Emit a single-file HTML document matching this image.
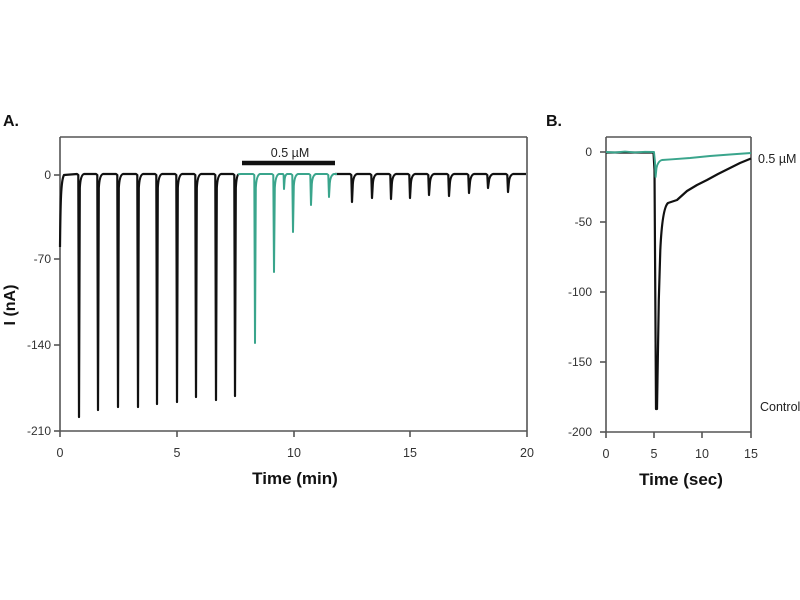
<!DOCTYPE html>
<html>
<head>
<meta charset="utf-8">
<style>
  html,body{margin:0;padding:0;background:#fff;}
  svg{display:block;}
  text{font-family:"Liberation Sans",Arial,sans-serif;}
</style>
</head>
<body>
<svg width="800" height="600" viewBox="0 0 800 600" xmlns="http://www.w3.org/2000/svg">
  <rect width="800" height="600" fill="#fff"/>

  <!-- Panel labels -->
  <text x="3" y="126" font-size="16" font-weight="bold" fill="#111">A.</text>
  <text x="546" y="126" font-size="16" font-weight="bold" fill="#111">B.</text>

  <!-- ================= Panel A ================= -->
  <g stroke="#555" stroke-width="1.6" fill="none">
    <line x1="60" y1="137" x2="527" y2="137"/>
    <line x1="527" y1="137" x2="527" y2="431"/>
    <line x1="60" y1="137" x2="60" y2="431"/>
    <line x1="60" y1="431" x2="527" y2="431"/>
    <!-- y ticks -->
    <line x1="54" y1="175" x2="60" y2="175"/>
    <line x1="54" y1="259" x2="60" y2="259"/>
    <line x1="54" y1="345" x2="60" y2="345"/>
    <line x1="54" y1="431" x2="60" y2="431"/>
    <!-- x ticks -->
    <line x1="60" y1="431" x2="60" y2="437"/>
    <line x1="177" y1="431" x2="177" y2="437"/>
    <line x1="294" y1="431" x2="294" y2="437"/>
    <line x1="410" y1="431" x2="410" y2="437"/>
    <line x1="527" y1="431" x2="527" y2="437"/>
  </g>
  <g font-size="12" fill="#333" text-anchor="end">
    <text x="51" y="179">0</text>
    <text x="51" y="263">-70</text>
    <text x="51" y="349">-140</text>
    <text x="51" y="435">-210</text>
  </g>
  <g font-size="12.5" fill="#333" text-anchor="middle">
    <text x="60" y="457">0</text>
    <text x="177" y="457">5</text>
    <text x="294" y="457">10</text>
    <text x="410" y="457">15</text>
    <text x="527" y="457">20</text>
  </g>
  <text x="295" y="484" font-size="17" font-weight="bold" fill="#111" text-anchor="middle">Time (min)</text>
  <text transform="translate(15,305) rotate(-90)" font-size="16" font-weight="bold" fill="#111" text-anchor="middle">I (nA)</text>

  <!-- concentration bar -->
  <line x1="242" y1="163" x2="335" y2="163" stroke="#111" stroke-width="4.5"/>
  <text x="290" y="157" font-size="12.5" fill="#222" text-anchor="middle">0.5 µM</text>

  <!-- black traces (control) -->
  <path fill="none" stroke="#111" stroke-width="2.2" stroke-linejoin="round"
    d="M60,247 C60.5,200 61,180 64,175 L77,174
       L78.3,175 L79,417 L79.8,188 Q80.5,175 84,174 L96,174
       L97.3,175 L98,410 L98.8,188 Q99.5,175 103,174 L116,174
       L117.3,175 L118,407 L118.8,188 Q119.5,175 123,174 L136,174
       L137.3,175 L138,407 L138.8,188 Q139.5,175 143,174 L155,174
       L156.3,175 L157,404 L157.8,188 Q158.5,175 162,174 L175,174
       L176.3,175 L177,402 L177.8,188 Q178.5,175 182,174 L194,174
       L195.3,175 L196,397 L196.8,188 Q197.5,175 201,174 L214,174
       L215.3,175 L216,400 L216.8,188 Q217.5,175 221,174 L233,174
       L234.3,175 L235,396 L235.8,188 Q236.5,175 238.5,174.5"/>
  <path fill="none" stroke="#111" stroke-width="2.2" stroke-linejoin="round"
    d="M335,174 L350,174
       L351.3,175 L352,202 L352.8,184 Q353.5,175 357,174 L370,174
       L371.3,175 L372,198 L372.8,184 Q373.5,175 377,174 L389,174
       L390.3,175 L391,199 L391.8,184 Q392.5,175 396,174 L408,174
       L409.3,175 L410,198 L410.8,184 Q411.5,175 415,174 L427,174
       L428.3,175 L429,195 L429.8,184 Q430.5,175 434,174 L447,174
       L448.3,175 L449,196 L449.8,184 Q450.5,175 454,174 L467,174
       L468.3,175 L469,193 L469.8,184 Q470.5,175 474,174 L486,174
       L487.3,175 L488,188 L488.8,182 Q489.5,175 493,174 L506,174
       L507.3,175 L508,192 L508.8,183 Q509.5,175 513,174 L526,174"/>
  <!-- green traces (0.5 uM) -->
  <path fill="none" stroke="#3aa58c" stroke-width="2" stroke-linejoin="round"
    d="M238,174.5 Q239,174 241,174 L253,174
       L254.3,175 L255,343 L255.8,188 Q256.5,175 260,174 L272,174
       L273.3,175 L274,272 L274.8,188 Q275.5,175 279,174 L283,174
       L283.6,175 L284,189 L284.6,180 Q285,175 287,174 L291,174
       L292.3,175 L293,232 L293.8,186 Q294.5,175 298,174 L309,174
       L310.3,175 L311,205 L311.8,184 Q312.5,175 316,174 L327,174
       L328.3,175 L329,197 L329.8,183 Q330.5,175 334,174 L337,174"/>

  <!-- ================= Panel B ================= -->
  <g stroke="#555" stroke-width="1.6" fill="none">
    <line x1="606" y1="137" x2="751" y2="137"/>
    <line x1="751" y1="137" x2="751" y2="432"/>
    <line x1="606" y1="137" x2="606" y2="432"/>
    <line x1="606" y1="432" x2="751" y2="432"/>
    <line x1="600" y1="152" x2="606" y2="152"/>
    <line x1="600" y1="222" x2="606" y2="222"/>
    <line x1="600" y1="292" x2="606" y2="292"/>
    <line x1="600" y1="362" x2="606" y2="362"/>
    <line x1="600" y1="432" x2="606" y2="432"/>
    <line x1="606" y1="432" x2="606" y2="438"/>
    <line x1="654" y1="432" x2="654" y2="438"/>
    <line x1="702" y1="432" x2="702" y2="438"/>
    <line x1="751" y1="432" x2="751" y2="438"/>
  </g>
  <g font-size="12" fill="#333" text-anchor="end">
    <text x="592" y="156">0</text>
    <text x="592" y="226">-50</text>
    <text x="592" y="296">-100</text>
    <text x="592" y="366">-150</text>
    <text x="592" y="436">-200</text>
  </g>
  <g font-size="12.5" fill="#333" text-anchor="middle">
    <text x="606" y="458">0</text>
    <text x="654" y="458">5</text>
    <text x="702" y="458">10</text>
    <text x="751" y="458">15</text>
  </g>
  <text x="681" y="485" font-size="17" font-weight="bold" fill="#111" text-anchor="middle">Time (sec)</text>
  <text x="758" y="163" font-size="12.5" fill="#222">0.5 µM</text>
  <text x="760" y="411" font-size="12.5" fill="#222">Control</text>

  <!-- black control trace -->
  <path fill="none" stroke="#111" stroke-width="2.2" stroke-linejoin="round"
    d="M606,152.5 L653.5,152.5 L654.5,170 L656,409 L657,409 L658.8,300 L660.3,250 Q662.3,208 668,203
       L677,200 L687,191 L697,185 L707,180 L718,174 L730,168 L740,163 L751,158.5"/>
  <!-- green 0.5 uM trace -->
  <path fill="none" stroke="#3aa58c" stroke-width="1.9" stroke-linejoin="round"
    d="M606,152 L615,152.5 L625,151.6 L635,152.4 L645,151.8 L654,152 L655,162 L655.6,177
       L656.5,168 Q658,161 662,160 L672,159.3 L690,158 L710,156 L730,154.5 L751,153"/>
</svg>
</body>
</html>
